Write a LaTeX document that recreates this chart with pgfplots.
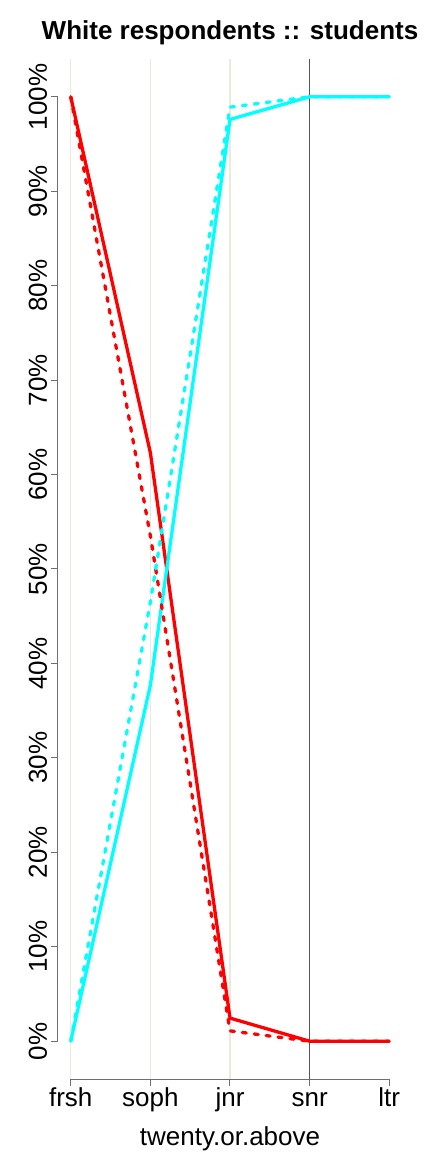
\documentclass[border=0pt]{standalone}
\usepackage{fontspec}
\setmainfont{Liberation Sans}
\usepackage{pgfplots}
\pgfplotsset{compat=1.18}
\definecolor{refline}{RGB}{236,234,220}
\definecolor{axgray}{RGB}{110,110,110}
\definecolor{snrline}{RGB}{85,85,85}
\definecolor{pcyan}{RGB}{0,255,255}
\definecolor{pred}{RGB}{255,0,0}
\begin{document}
\begin{tikzpicture}[x=1pt,y=1pt]
\useasboundingbox (-58,-73) rectangle (374,1079);
\begin{axis}[
  at={(0,0)}, anchor=south west,
  scale only axis, width=344pt, height=1020pt,
  xmin=0.84, xmax=5.16, ymin=-4, ymax=104,
  axis lines*=left, axis line style={draw=none},
  xtick={1,2,3,4,5}, xticklabels={frsh,soph,jnr,snr,ltr},
  ytick={0,10,...,100},
  yticklabels={0\%,10\%,20\%,30\%,40\%,50\%,60\%,70\%,80\%,90\%,100\%},
  tick align=outside, major tick length=7pt,
  tick style={axgray, line width=1pt},
  every tick label/.append style={font=\fontsize{26}{30}\selectfont},
  yticklabel style={rotate=90, anchor=base, yshift=4pt},
  xticklabel style={anchor=base, yshift=-20pt},
  xlabel={twenty.or.above},
  xlabel style={font=\fontsize{26}{30}\selectfont, at={(0.5,0)}, anchor=base, yshift=-66pt},
  title={White respondents :: students},
  title style={font=\bfseries\fontsize{26}{30}\selectfont, at={(0.5,1)}, anchor=base, yshift=13pt},
  clip=false,
]
\draw[refline, line width=1.2pt] (axis cs:1,-4) -- (axis cs:1,104);
\draw[refline, line width=1.2pt] (axis cs:2,-4) -- (axis cs:2,104);
\draw[refline, line width=1.2pt] (axis cs:3,-4) -- (axis cs:3,104);
\draw[snrline, line width=1.2pt] (axis cs:4,-4) -- (axis cs:4,104);
\draw[axgray, line width=1pt] (axis cs:1,-4) -- (axis cs:5,-4);
\draw[axgray, line width=1pt] (axis cs:0.84,0) -- (axis cs:0.84,100);
% solid: observed
\addplot[pred, line width=3.3pt, line join=round] coordinates {
  (1,100) (2,62.3) (3,2.45) (4,0) (5,0)
};
\addplot[pcyan, line width=3.3pt, line join=round] coordinates {
  (1,0) (2,37.7) (3,97.6) (4,100) (5,100)
};
% dashed: comparison
\addplot[pred, line width=3.3pt, line cap=round, dash pattern=on 4pt off 8pt] coordinates {
  (1,100) (2,53.5) (3,1.1) (4,0) (5,0)
};
\addplot[pcyan, line width=3.3pt, line cap=round, dash pattern=on 4pt off 8pt] coordinates {
  (1,0) (2,46.5) (3,98.9) (4,100) (5,100)
};
\end{axis}
\end{tikzpicture}
\end{document}
